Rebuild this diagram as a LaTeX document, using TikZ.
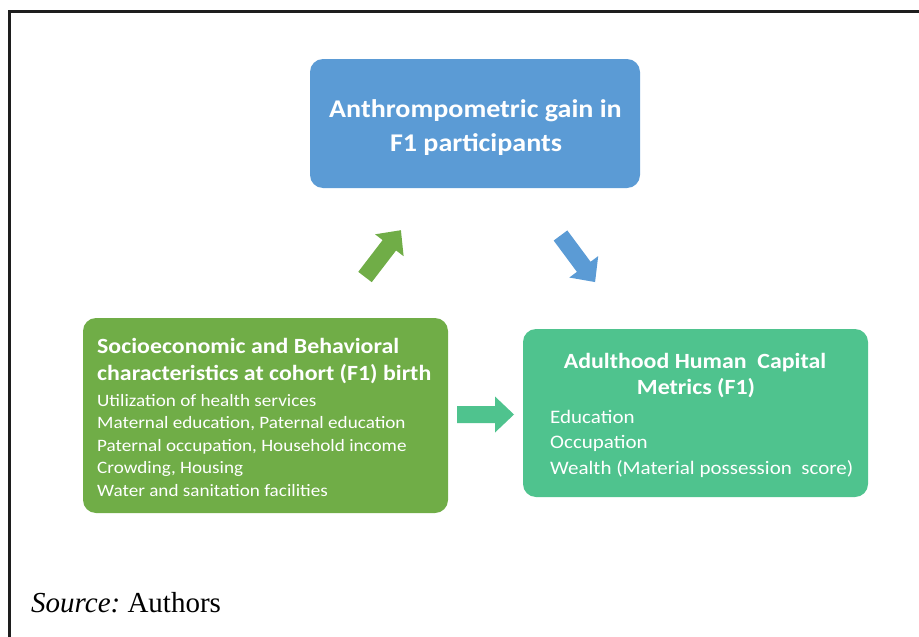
\documentclass[tikz,border=0pt]{standalone}
\usepackage{fontspec}
\setmainfont{Liberation Serif}
\newfontfamily\calfont[FakeStretch=1.1]{Carlito}
\definecolor{boxblue}{HTML}{5B9BD5}
\definecolor{boxgreen}{HTML}{70AD47}
\definecolor{boxteal}{HTML}{4FC38E}
\definecolor{framegray}{HTML}{1E1E1E}
\newcommand\blockarrow[5]{%
  \fill[#5, shift={(#1,#2)}, rotate=#3]
    (0,-8.5) -- ({#4-19},-8.5) -- ({#4-19},-18) -- (#4,0) --
    ({#4-19},18) -- ({#4-19},8.5) -- (0,8.5) -- cycle;}
\begin{document}
\begin{tikzpicture}[x=1pt,y=1pt,
  box/.style={rounded corners=13pt, inner sep=0pt, draw=none},
  wtxt/.style={text=white, inner sep=0pt},
  bigbold/.style={wtxt, anchor=base, font=\calfont\bfseries\fontsize{25.5}{30}\selectfont},
  titlebold/.style={wtxt, font=\calfont\bfseries\fontsize{21.7}{26}\selectfont},
  smallitem/.style={wtxt, anchor=base west, font=\calfont\fontsize{17.4}{20}\selectfont},
  biggeritem/.style={wtxt, anchor=base west, font=\calfont\fontsize{19.1}{22}\selectfont},
]
\useasboundingbox (0,0) rectangle (919,-637);
% frame
\draw[framegray, line width=2.4pt] (9.5,-637) -- (9.5,-11.5) -- (919,-11.5);

% boxes
\node[box, fill=boxblue, minimum width=330pt, minimum height=129pt] (anthro) at (475,-123.5) {};
\node[box, fill=boxgreen, minimum width=365pt, minimum height=195pt] (socio) at (265.5,-415.5) {};
\node[box, fill=boxteal, minimum width=345pt, minimum height=168pt] (adult) at (695.5,-413) {};

% blue box text
\node[bigbold] (a1) at (475.5,-117) {Anthrompometric gain in};
\node[bigbold] (a2) at (476,-151) {F1 participants};

% left box text
\node[titlebold, anchor=base west] (s1) at (97,-353) {Socioeconomic and Behavioral};
\node[titlebold, anchor=base west] (s2) at (97,-380.5) {characteristics at cohort (F1) birth};
\node[smallitem] (s3) at (97,-406) {Utilization of health services};
\node[smallitem] (s4) at (97,-428.5) {Maternal education, Paternal education};
\node[smallitem] (s5) at (97,-451) {Paternal occupation, Household income};
\node[smallitem] (s6) at (97,-473.5) {Crowding, Housing};
\node[smallitem] (s7) at (97,-496.5) {Water and sanitation facilities};

% right box text
\node[titlebold, anchor=base] (r1) at (695,-368) {Adulthood Human~ Capital};
\node[titlebold, anchor=base] (r2) at (696,-394) {Metrics (F1)};
\node[biggeritem] (r3) at (550,-423) {Education};
\node[biggeritem] (r4) at (550,-448) {Occupation};
\node[biggeritem] (r5) at (550,-474) {Wealth (Material possession~ score)};

% block arrows
\coordinate (upA) at (365,-277);
\coordinate (downA) at (560.5,-235.5);
\coordinate (rightA) at (457,-414.5);
\blockarrow{365}{-277}{52.5}{59}{boxgreen}
\blockarrow{560.5}{-235.5}{-53.4}{58}{boxblue}
\blockarrow{457}{-414.5}{0}{57}{boxteal}

% source
\node[anchor=base west, inner sep=0pt, font=\fontsize{29}{34}\selectfont] (src) at (31,-612) {\textit{Source:}\hspace{0.25em}Authors};
\end{tikzpicture}
\end{document}
